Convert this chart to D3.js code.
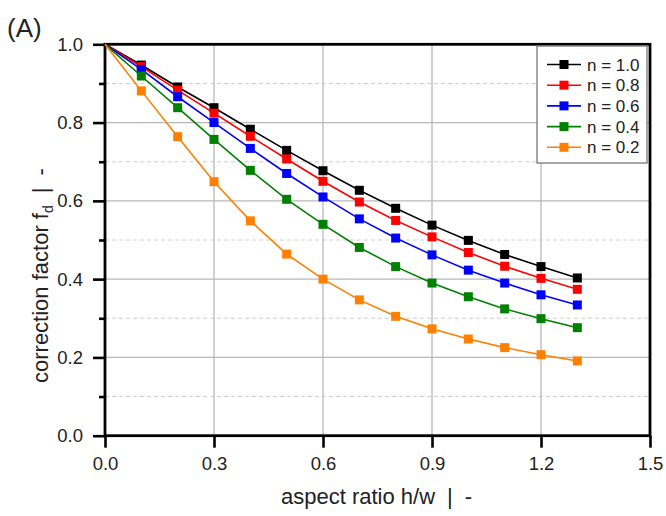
<!DOCTYPE html>
<html><head><meta charset="utf-8">
<script src="https://cdn.jsdelivr.net/npm/d3@7"></script>
<style>body{margin:0;background:#fff}svg{display:block;font-family:"Liberation Sans",Arial,sans-serif}</style>
</head><body><svg id="c" width="666" height="516"></svg>
<script>
const xValues = [0,0.1,0.2,0.3,0.4,0.5,0.6,0.7,0.8,0.9,1.0,1.1,1.2,1.3];
const seriesNames = ["n = 1.0","n = 0.8","n = 0.6","n = 0.4","n = 0.2"];
const n10 = [1.0,0.947,0.891,0.838,0.783,0.729,0.677,0.627,0.581,0.538,0.499,0.463,0.432,0.403];
const n08 = [1.0,0.943,0.883,0.824,0.765,0.707,0.650,0.597,0.550,0.508,0.468,0.433,0.402,0.374];
const n06 = [1.0,0.936,0.866,0.800,0.734,0.670,0.610,0.554,0.505,0.462,0.423,0.390,0.360,0.334];
const n04 = [1.0,0.919,0.838,0.757,0.678,0.604,0.540,0.481,0.432,0.390,0.355,0.324,0.299,0.276];
const n02 = [1.0,0.881,0.764,0.649,0.549,0.464,0.400,0.347,0.305,0.273,0.247,0.225,0.207,0.191];
const xTicks = [0,0.3,0.6,0.9,1.2,1.5];
const yTicks = [0,0.2,0.4,0.6,0.8,1.0];
const yMinor = [0.1,0.3,0.5,0.7,0.9];
const colors = ["#000000","#ff0000","#0000ff","#008000","#ff8000"];
const series = [n10,n08,n06,n04,n02];

const svg = d3.select("#c");
const x = d3.scaleLinear().domain([0,1.5]).range([105,650]);
const y = d3.scaleLinear().domain([0,1.0]).range([435.7,44.3]);

const g = svg.append("g");
g.selectAll(".gy").data(yMinor).join("line")
  .attr("x1",x(0)).attr("x2",x(1.5)).attr("y1",d=>y(d)).attr("y2",d=>y(d))
  .style("stroke","#d0d0d0").style("stroke-width",1).style("stroke-dasharray","4,3");
g.selectAll(".gY").data(yTicks.slice(1,5)).join("line")
  .attr("x1",x(0)).attr("x2",x(1.5)).attr("y1",d=>y(d)).attr("y2",d=>y(d))
  .style("stroke","#b8b8b8").style("stroke-width",1.3);
g.selectAll(".gX").data(xTicks.slice(1,5)).join("line")
  .attr("y1",y(0)).attr("y2",y(1)).attr("x1",d=>x(d)).attr("x2",d=>x(d))
  .style("stroke","#b8b8b8").style("stroke-width",1.3);

const xAxis = svg.append("g").attr("transform",`translate(0,${y(0)})`)
  .call(d3.axisBottom(x).tickValues(xTicks).tickFormat(d3.format(".1f")).tickSize(12).tickPadding(9));
const yAxis = svg.append("g").attr("transform",`translate(${x(0)},0)`)
  .call(d3.axisLeft(y).tickValues(yTicks).tickFormat(d3.format(".1f")).tickSize(12).tickPadding(10));
const yAxisMinor = svg.append("g").attr("transform",`translate(${x(0)},0)`)
  .call(d3.axisLeft(y).tickValues(yMinor).tickFormat("").tickSize(6));
[xAxis,yAxis,yAxisMinor].forEach(a=>{
  a.select(".domain").remove();
  a.selectAll(".tick line").attr("stroke","#000").attr("stroke-width",2.6);
  a.selectAll(".tick text").style("font-size","18.5px").style("fill","#222");
});
svg.append("rect").attr("x",x(0)).attr("y",y(1)).attr("width",x(1.5)-x(0)).attr("height",y(0)-y(1))
  .style("fill","none").style("stroke","#000").style("stroke-width",2.8);

const line = d3.line().x((d,i)=>x(xValues[i])).y(d=>y(d));
series.forEach((s,k)=>{
  svg.append("path").datum(s).attr("d",line).style("fill","none").style("stroke",colors[k]).style("stroke-width",1.6);
});
series.forEach((s,k)=>{
  svg.append("g").selectAll("rect").data(s.slice(1)).join("rect")
    .attr("x",(d,i)=>x(xValues[i+1])-4.5).attr("y",d=>y(d)-4.5)
    .attr("width",9).attr("height",9).style("fill",colors[k]);
});

const lg = svg.append("g");
lg.append("rect").attr("x",537).attr("y",46).attr("width",110).attr("height",117)
  .style("fill","#fff").style("stroke","#777").style("stroke-width",1.3);
seriesNames.forEach((nm,k)=>{
  const yy = 64.5 + k*20.7;
  lg.append("line").attr("x1",547).attr("x2",581).attr("y1",yy).attr("y2",yy).style("stroke",colors[k]).style("stroke-width",1.6);
  lg.append("rect").attr("x",564-4.5).attr("y",yy-4.5).attr("width",9).attr("height",9).style("fill",colors[k]);
  lg.append("text").attr("x",587).attr("y",yy).attr("dy","0.36em").style("font-size","17px").style("fill","#222").text(nm);
});

svg.append("text").attr("x",7).attr("y",37).style("font-size","26px").style("fill","#222").text("(A)");
const xl = svg.append("text").attr("x",281).attr("y",504).style("font-size","22px").style("fill","#222");
xl.append("tspan").text("aspect ratio h/w");
xl.append("tspan").attr("dx",12).text("|");
xl.append("tspan").attr("dx",12).text("-");
const yl = svg.append("text").attr("transform",`translate(48,383) rotate(-90)`).style("font-size","22px").style("fill","#222");
yl.append("tspan").text("correction factor f");
yl.append("tspan").attr("dy",5).style("font-size","14px").text("d");
yl.append("tspan").attr("dy",-5).attr("dx",12).text("|");
yl.append("tspan").attr("dx",12).text("-");
</script></body></html>
